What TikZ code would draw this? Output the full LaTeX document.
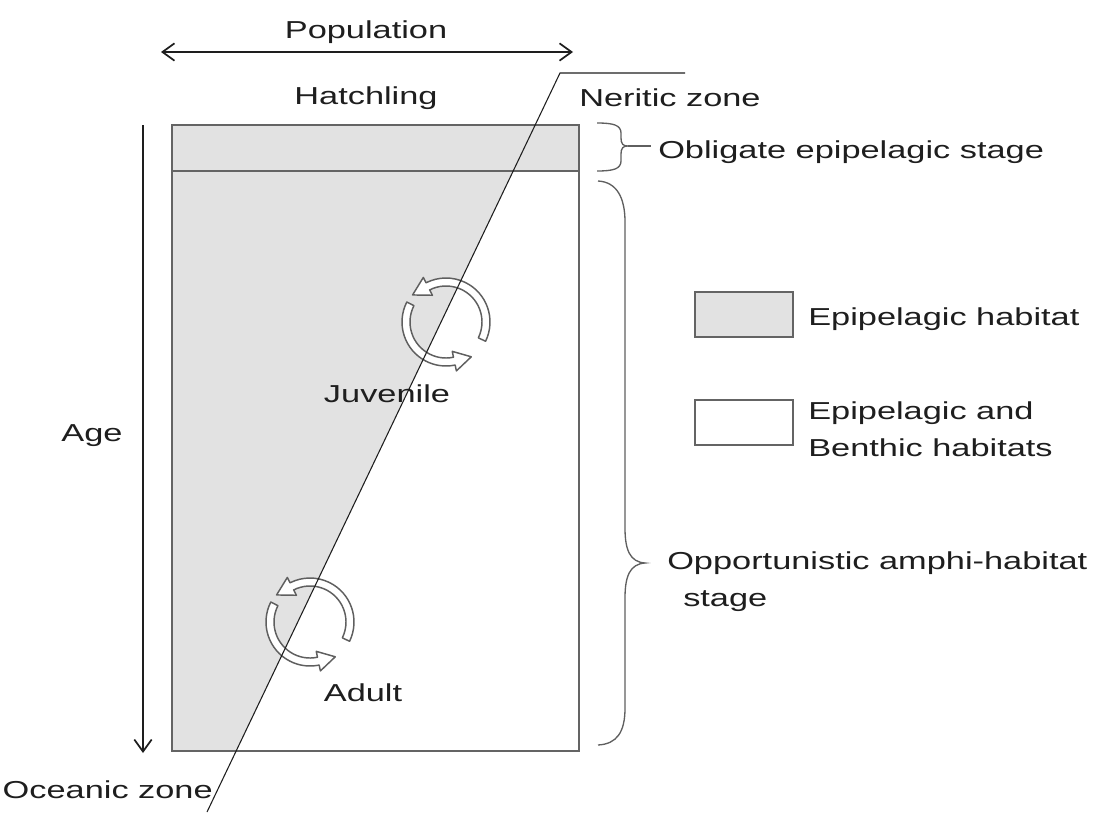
\documentclass[tikz,border=0pt]{standalone}
\usepackage{fontspec}
\setmainfont{Liberation Sans}[FakeStretch=1.4]
\usetikzlibrary{arrows.meta}
\definecolor{stip}{RGB}{226,226,226}
\definecolor{edge}{RGB}{100,100,100}
\definecolor{ink}{RGB}{30,30,30}
\definecolor{arcgray}{RGB}{95,95,95}
\newcommand{\hollowcycle}[1]{%
  \begin{scope}[shift={#1}, x=0.75pt, y=0.75pt]
    \draw[hollow] (-26:44) arc[start angle=-26, end angle=117, radius=44]
      -- (117:50) -- (141:43) -- (117:30) -- (117:36)
      arc[start angle=117, end angle=-26, radius=36] -- cycle;
    \draw[hollow] (153:44) arc[start angle=153, end angle=282, radius=44]
      -- (282:50) -- (306:43) -- (282:30) -- (282:36)
      arc[start angle=282, end angle=153, radius=36] -- cycle;
  \end{scope}}
\begin{document}
\begin{tikzpicture}[x=0.75pt, y=-0.75pt,
  txt/.style={inner sep=0pt, font=\fontsize{18.4}{22}\selectfont, text=ink},
  hollow/.style={draw=arcgray, line width=1.1pt, fill=white, line join=round},
  frame/.style={draw=edge, line width=1pt},
  bracestyle/.style={draw=arcgray, line width=1pt},
  dimarrow/.style={draw=ink, line width=1.3pt, {Straight Barb[length=9pt,width=13pt]}-{Straight Barb[length=9pt,width=13pt]}},
  agearrow/.style={draw=ink, line width=1.3pt, -{Straight Barb[length=9pt,width=13pt]}},
  zoneline/.style={draw=ink, line width=0.8pt},
  legbox/.style={frame, minimum width=73.5pt, minimum height=33.75pt, inner sep=0pt}]
\useasboundingbox (0,0) rectangle (1102,814);

% stippled (epipelagic) area
\begin{scope}
  \clip (172,125) rectangle (579,751);
  \fill[stip] (172,125) rectangle (579,171);
  \fill[stip] (560,73) -- (207,812) -- (0,812) -- (0,73) -- cycle;
\end{scope}
\draw[frame] (172,125) rectangle (579,751);
\draw[draw=edge, line width=0.9pt] (172,171) -- (579,171);

% cycle arrows
\hollowcycle{(446,322)}
\hollowcycle{(310,622)}

% zone boundary
\coordinate (zR) at (685,73);
\coordinate (zT) at (560,73);
\coordinate (zB) at (207,812);
\draw[zoneline] (zR) -- (zT) -- (zB);

% population and age axes
\coordinate (popL) at (161,52);
\coordinate (popR) at (573,52);
\draw[dimarrow] (popL) -- (popR);
\coordinate (ageT) at (143,125);
\coordinate (ageB) at (143,753);
\draw[agearrow] (ageT) -- (ageB);

% braces
\coordinate (sbTip) at (628,146);
\coordinate (sbEnd) at (651,146);
\draw[bracestyle] (597,123) .. controls (613,123) and (621,125) .. (621,133)
  -- (621,138) .. controls (621,144) and (623,146) .. (sbTip)
  .. controls (623,146) and (621,148) .. (621,154)
  -- (621,161) .. controls (621,169) and (613,171) .. (597,171);
\draw[bracestyle] (sbTip) -- (sbEnd);
\coordinate (lbTip) at (645,563);
\draw[bracestyle] (598,181) .. controls (617,182) and (625,198) .. (625,222)
  -- (625,528) .. controls (625,550) and (630,562) .. (lbTip)
  .. controls (630,564) and (625,576) .. (625,598)
  -- (625,708) .. controls (625,732) and (617,744) .. (598,745);

% legend boxes
\node[legbox, fill=stip] (lb1) at (744,314.5) {};
\node[legbox, fill=white] (lb2) at (744,422.5) {};

% texts
\node[txt, anchor=base] (pop) at (366,38) {Population};
\node[txt, anchor=base] (hatch) at (366,104) {Hatchling};
\node[txt, anchor=base west] (neritic) at (579,106) {Neritic zone};
\node[txt, anchor=base west] (oblig) at (658,158) {Obligate epipelagic stage};
\node[txt, anchor=base west] (opp) at (667,569) {Opportunistic amphi-habitat};
\node[txt, anchor=base west] (opp2) at (683,606) {stage};
\node[txt, anchor=base] (age) at (92,441) {Age};
\node[txt, anchor=base] (juv) at (387,402) {Juvenile};
\node[txt, anchor=base] (adult) at (363,701) {Adult};
\node[txt, anchor=base west] (leg1) at (808,325) {Epipelagic habitat};
\node[txt, anchor=base west] (leg2a) at (808,419) {Epipelagic and};
\node[txt, anchor=base west] (leg2b) at (808,456) {Benthic habitats};
\node[txt, anchor=base east] (ocean) at (213,798) {Oceanic zone};
\end{tikzpicture}
\end{document}
